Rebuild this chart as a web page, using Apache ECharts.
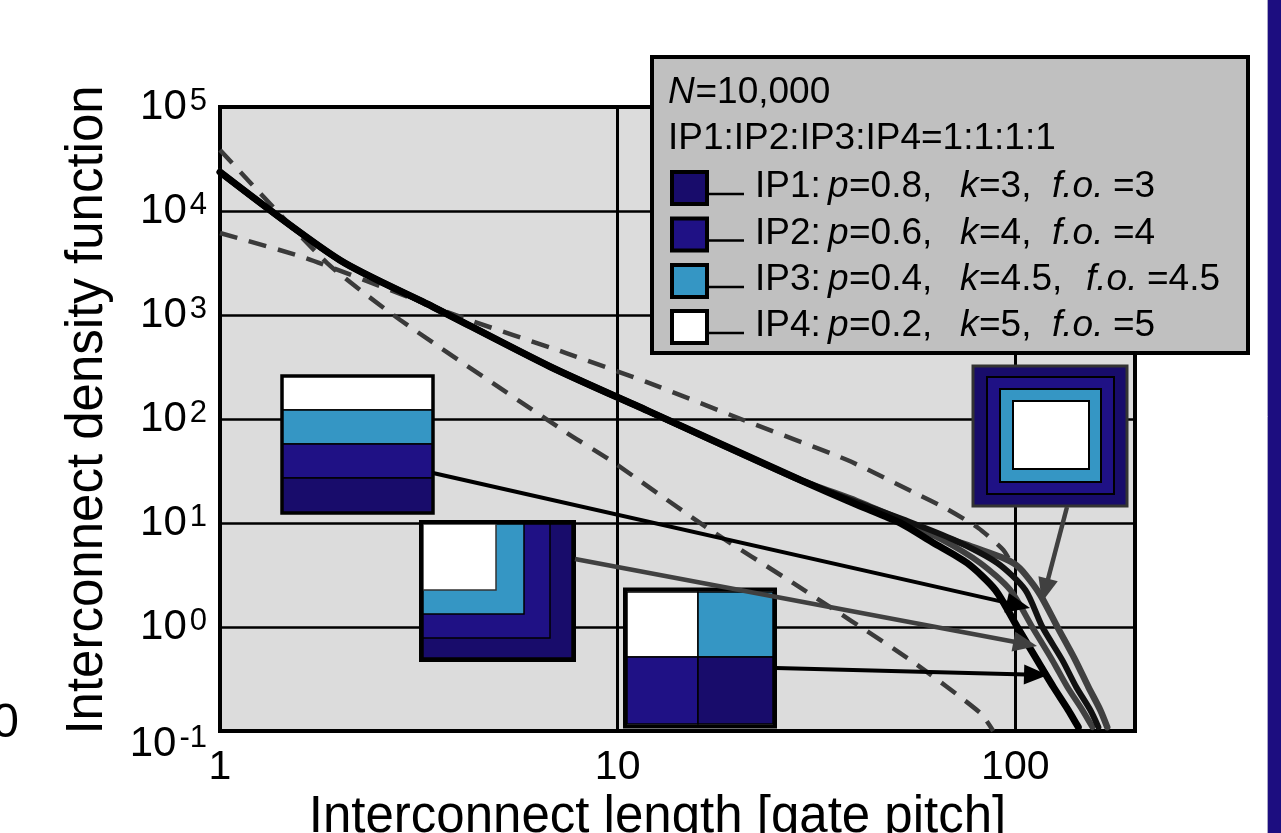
<!DOCTYPE html>
<html><head><meta charset="utf-8">
<script src="https://cdn.jsdelivr.net/npm/echarts@6/dist/echarts.min.js"></script>
<style>html,body{margin:0;padding:0;background:#fff;}#c{width:1281px;height:833px;}</style>
</head><body><div id="c"></div>
<script>
const FONT = '"Liberation Sans", Arial, Helvetica, sans-serif';

// ---- data ----
// four IP arrangements (solid curves)
const lenA = [1, 2, 3.43, 6.77, 12.07, 28.8, 40, 51.4, 62, 75.7, 89.1, 101.2, 113.5, 124.7, 135.9, 144];
const denA = [23700, 3380, 1200, 318, 117, 25.9, 15.0, 10.0, 6.5, 4.12, 2.27, 1.0, 0.48, 0.265, 0.159, 0.109];
const lenB = [1, 2, 3.43, 6.77, 12.07, 28.8, 40, 52, 65, 81.7, 97.1, 110.3, 123.9, 135.2, 147.5, 156.3];
const denB = [23700, 3380, 1200, 318, 117, 25.9, 15.5, 10.3, 7.0, 4.12, 2.27, 1.0, 0.48, 0.265, 0.159, 0.109];
const lenC = [1, 2, 3.43, 6.77, 12.07, 28.8, 40, 53, 70, 90.1, 106, 117, 131.3, 142.3, 154.4, 161.8];
const denC = [23700, 3380, 1200, 318, 117, 25.9, 15.8, 10.6, 6.9, 4.12, 2.27, 1.0, 0.48, 0.265, 0.159, 0.109];
const lenD = [1, 2, 3.43, 6.77, 12.07, 28.8, 40, 62.2, 80, 92, 100, 106, 115.6, 127.6, 141.6, 152.7, 163.6, 170.3];
const denD = [23700, 3380, 1200, 318, 117, 25.9, 16.2, 8.0, 5.7, 4.7, 4.0, 3.2, 2.03, 1.0, 0.48, 0.265, 0.159, 0.109];
// dashed reference curves
const lenE = [1, 1.86, 2.84, 7.46, 9.57, 17.1, 27.6, 54.5, 81.7, 88];
const denE = [38600, 3160, 895, 73.3, 40.3, 8.57, 2.65, 0.48, 0.149, 0.1];
const lenF = [1, 1.65, 4.01, 7.45, 12.07, 20.7, 37.8, 56, 66.7, 80.7, 93.3, 98.9];
const denF = [6140, 3510, 963, 428, 220, 97.8, 40.3, 19.4, 13.9, 8.95, 5.5, 3.78];

const legendHead = ['N', '=10,000'];
const legendRatio = 'IP1:IP2:IP3:IP4=1:1:1:1';
const ipNames = ['IP1:', 'IP2:', 'IP3:', 'IP4:'];
const ipP = ['=0.8,', '=0.6,', '=0.4,', '=0.2,'];
const ipK = ['=3,', '=4,', '=4.5,', '=5,'];
const ipFO = ['=3', '=4', '=4.5', '=5'];
const ipColors = ['#180c6b', '#1f1185', '#3596c4', '#ffffff'];

const xName = 'Interconnect length [gate pitch]';
const yName = 'Interconnect density function';

function pairs(xs, ys) { return xs.map((x, i) => [x, ys[i]]); }

const chart = echarts.init(document.getElementById('c'), null, { renderer: 'canvas' });

function solid(name, xs, ys, color, w) {
  return { name, type: 'line', data: pairs(xs, ys), showSymbol: false, symbol: 'none', clip: true,
    smooth: 0.25, lineStyle: { color, width: w, cap: 'round', join: 'round' }, z: 3 };
}
function dashed(name, xs, ys) {
  return { name, type: 'line', data: pairs(xs, ys), showSymbol: false, symbol: 'none', clip: true,
    smooth: 0.2, lineStyle: { color: '#3a3a3a', width: 4.5, type: [18, 12] }, z: 2 };
}

// ---- decorations (legend box, insets, arrows) ----
const els = [];
function rect(x, y, w, h, fill, stroke, lw, z) {
  els.push({ type: 'rect', z: z || 100, shape: { x, y, width: w, height: h },
    style: { fill: fill || 'none', stroke: stroke || 'none', lineWidth: lw || 0 } });
}
function text(t, x, y, size, italic, align) {
  els.push({ type: 'text', z: 102, x, y, style: { text: t, font: (italic ? 'italic ' : '') + size + 'px ' + FONT,
    fill: '#000', textAlign: align || 'left', textVerticalAlign: 'middle', align: align || 'left', verticalAlign: 'middle' } });
}
function line(x1, y1, x2, y2, color, w) {
  els.push({ type: 'line', z: 101, shape: { x1, y1, x2, y2 }, style: { stroke: color, lineWidth: w } });
}
function arrow(x1, y1, x2, y2, color, w) {
  const dx = x2 - x1, dy = y2 - y1, L = Math.hypot(dx, dy), ux = dx / L, uy = dy / L;
  const hl = 24, hw = 10;
  const bx = x2 - ux * hl, by = y2 - uy * hl;
  line(x1, y1, bx + ux * 2, by + uy * 2, color, w);
  els.push({ type: 'polygon', z: 101, shape: { points: [[x2, y2], [bx - uy * hw, by + ux * hw], [bx + uy * hw, by - ux * hw]] },
    style: { fill: color } });
}

// right page strip and clipped neighbour label
rect(1268, 0, 13, 833, '#1c0d80', null, 0, 90);
line(1267.5, 0, 1267.5, 833, '#a9a6c4', 1);
text('0', 19, 724, 48, false, 'right');

// legend box
rect(652, 57, 596, 296, '#c0c0c0', '#000', 4);
text(legendHead[0], 668, 93, 37, true);
text(legendHead[1], 695.5, 93, 37, false);
text(legendRatio, 668, 139, 37, false);
const rowY = [187, 233.5, 280, 326];
for (let i = 0; i < 4; i++) {
  const c = rowY[i];
  rect(672, c - 15, 35, 32, ipColors[i], '#000', 4);
  line(707, c + 7, 744, c + 7, '#000', 2.5);
  text(ipNames[i], 755, c, 37, false);
  text('p', 828, c, 37, true);
  text(ipP[i], 849, c, 37, false);
  text('k', 960, c, 37, true);
  text(ipK[i], 979, c, 37, false);
  const fx = i === 2 ? 1086 : 1052;
  text('f.o.', fx, c, 37, true);
  text(ipFO[i], fx + 61, c, 37, false);
}

// inset A: horizontal stripes
rect(282, 376, 151, 34, ipColors[3], '#000', 1.5);
rect(282, 410, 151, 34, ipColors[2], '#000', 1.5);
rect(282, 444, 151, 34, ipColors[1], '#000', 1.5);
rect(282, 478, 151, 35, ipColors[0], '#000', 1.5);
rect(282, 376, 151, 137, null, '#000', 3.5);
// inset B: nested corners
rect(423, 524, 149, 134, ipColors[0], '#000', 1.5);
rect(423, 524, 127, 114, ipColors[1], '#000', 1.5);
rect(423, 524, 101, 90, ipColors[2], '#000', 1.5);
rect(423, 524, 73, 66, ipColors[3], '#333', 1.5);
rect(421, 522, 153, 138, null, '#000', 4);
// inset C: 2x2 grid
rect(627, 592, 71, 65, ipColors[3], '#000', 1.5);
rect(698, 592, 75, 65, ipColors[2], '#000', 1.5);
rect(627, 657, 71, 67, ipColors[1], '#000', 1.5);
rect(698, 657, 75, 67, ipColors[0], '#000', 1.5);
rect(625, 589.5, 150, 137, null, '#000', 4);
// inset D: concentric squares
rect(973, 366, 154, 140, ipColors[0], '#333', 3);
rect(987, 377, 127, 117, ipColors[1], '#000', 2);
rect(1000, 389, 101, 93, ipColors[2], '#000', 2);
rect(1013, 401, 76, 68, ipColors[3], '#000', 2);

// arrows from insets to their curves
arrow(433, 473, 1030, 608, '#000', 4);
arrow(575, 559, 1037, 646, '#404040', 4.5);
arrow(776, 668, 1048, 675, '#000', 4);
arrow(1067, 507, 1042, 602, '#404040', 4.5);

const option = {
  animation: false,
  backgroundColor: '#ffffff',
  grid: { left: 220, top: 107, width: 915, height: 624, show: true, backgroundColor: '#dcdcdc',
    borderColor: '#000', borderWidth: 4, containLabel: false, outerBoundsMode: 'none' },
  xAxis: {
    type: 'log', logBase: 10, min: 1, max: 200,
    name: xName, nameLocation: 'middle', nameGap: 53,
    nameTextStyle: { fontFamily: FONT, fontSize: 51, color: '#000', padding: [0, 40, 0, 0] },
    axisLine: { show: false }, axisTick: { show: false },
    splitLine: { show: true, lineStyle: { color: '#000', width: 3 } },
    axisLabel: { fontFamily: FONT, fontSize: 41, color: '#000', margin: 16, showMaxLabel: false,
      formatter: v => String(Math.round(v)) }
  },
  yAxis: {
    type: 'log', logBase: 10, min: 0.1, max: 100000,
    name: yName, nameLocation: 'middle', nameGap: 107,
    nameTextStyle: { fontFamily: FONT, fontSize: 51, color: '#000', padding: [0, 0, 0, 18] },
    axisLine: { show: false }, axisTick: { show: false },
    splitLine: { show: true, lineStyle: { color: '#000', width: 2.5 } },
    axisLabel: {
      margin: 13, color: '#000',
      formatter: v => {
        const e = Math.round(Math.log10(v));
        return e === -1 ? '{pad| }\n{b|10}{s|-1}' : '{b|10}{s|' + e + '}';
      },
      rich: {
        b: { fontFamily: FONT, fontSize: 42, lineHeight: 42, color: '#000' },
        s: { fontFamily: FONT, fontSize: 31, lineHeight: 31, verticalAlign: 'top', padding: [0, 0, 0, 3], color: '#000' },
        pad: { fontSize: 8, lineHeight: 26 }
      }
    }
  },
  series: [
    dashed('dashE', lenE, denE),
    dashed('dashF', lenF, denF),
    solid('IP-D', lenD, denD, '#404040', 6.5),
    solid('IP-B', lenB, denB, '#404040', 6),
    solid('IP-C', lenC, denC, '#111', 6),
    solid('IP-A', lenA, denA, '#000', 7)
  ],
  graphic: { elements: els }
};
chart.setOption(option);
</script></body></html>
